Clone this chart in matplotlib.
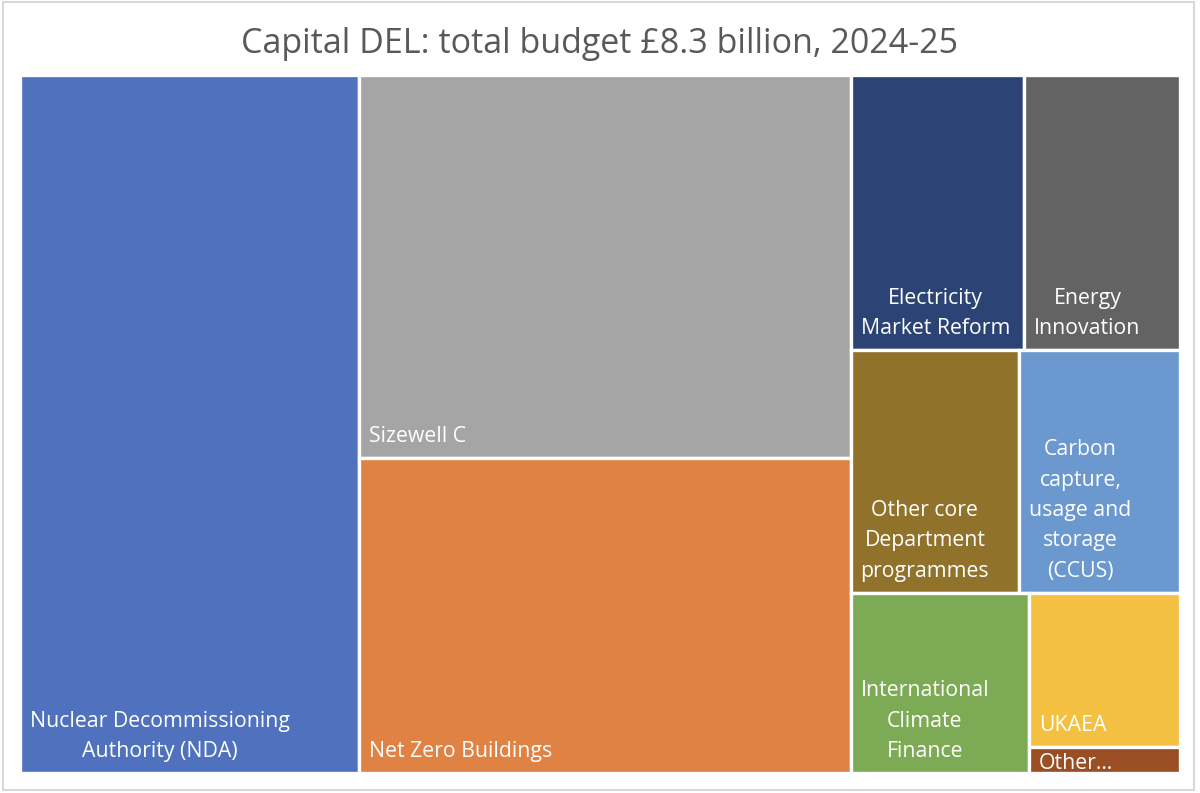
import matplotlib
matplotlib.use("Agg")
import matplotlib.pyplot as plt
from matplotlib.patches import Rectangle

# ---- data (GBP billion) ----
labels = [
    "Nuclear Decommissioning\nAuthority (NDA)",
    "Sizewell C",
    "Net Zero Buildings",
    "Electricity\nMarket Reform",
    "Energy\nInnovation",
    "Other core\nDepartment\nprogrammes",
    "Carbon\ncapture,\nusage and\nstorage\n(CCUS)",
    "International\nClimate\nFinance",
    "UKAEA",
    "Other…",
]
values = [2.43, 1.93, 1.59, 0.49, 0.44, 0.42, 0.40, 0.33, 0.24, 0.04]
colors = ["#4F71BE", "#A5A5A5", "#DF8244", "#2C4375", "#636363",
          "#91722B", "#6A98CF", "#7DAB55", "#F4C042", "#994E23"]
title = "Capital DEL: total budget £8.3 billion, 2024-25"

# grouping of tiles (layout structure, indices into the lists above)
groups = [0, [1, 2], [[3, 4], [5, 6], [7, [8, 9]]]]

plt.rcParams["font.family"] = ["Open Sans", "DejaVu Sans"]

W, H = 1200, 793
fig = plt.figure(figsize=(W / 100, H / 100), dpi=100)
fig.patch.set_facecolor("white")

# plot area in pixels
px0, py0, px1, py1 = 20, 75, 1180, 773
ax = fig.add_axes([px0 / W, 1 - py1 / H, (px1 - px0) / W, (py1 - py0) / H])
AW, AH = px1 - px0, py1 - py0
ax.set_xlim(0, AW)
ax.set_ylim(AH, 0)
ax.axis("off")


def total(node):
    if isinstance(node, int):
        return values[node]
    return sum(total(n) for n in node)


def layout(node, x, y, w, h, out):
    if isinstance(node, int):
        out[node] = (x, y, w, h)
        return
    t = total(node)
    if w >= h:
        cx = x
        for n in node:
            ww = w * total(n) / t
            layout(n, cx, y, ww, h, out)
            cx += ww
    else:
        cy = y
        for n in node:
            hh = h * total(n) / t
            layout(n, x, cy, w, hh, out)
            cy += hh


rects = {}
layout(groups, 0, 0, AW, AH, rects)

for i in range(len(values)):
    x, y, w, h = rects[i]
    ax.add_patch(Rectangle((x, y), w, h, facecolor=colors[i],
                           edgecolor="white", linewidth=2.4))
    pad_b = 16 if h > 60 else 4
    ax.text(x + 10, y + h - pad_b, labels[i], ha="left", va="baseline",
            multialignment="center", color="white", fontsize=15.3,
            linespacing=1.58)

fig.text(0.5, 1 - 53 / H, title, ha="center", va="baseline",
         fontsize=24.5, color="#595959")

# outer chart border
fig.add_artist(Rectangle((3 / W, 1 - 790 / H), 1191 / W, 788 / H,
                         transform=fig.transFigure, fill=False,
                         edgecolor="#D9D9D9", linewidth=1.5))

fig.savefig("out.png", dpi=100, facecolor="white")
